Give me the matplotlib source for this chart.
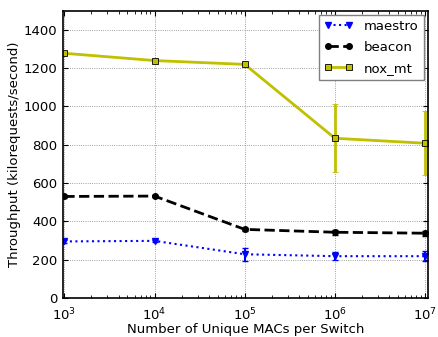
import matplotlib
matplotlib.use("Agg")
import matplotlib.pyplot as plt
from matplotlib.lines import Line2D

macs = [1e3, 1e4, 1e5, 1e6, 1e7]

maestro = [295, 298, 228, 218, 218]
maestro_err = [6, 6, 35, 22, 25]
beacon = [530, 532, 358, 343, 338]
beacon_err = [6, 6, 8, 12, 12]
nox_mt = [1278, 1240, 1220, 834, 808]
nox_mt_err = [10, 10, 10, 178, 167]

fig = plt.figure(figsize=(4.39, 3.37), dpi=100)
ax = fig.add_axes([0.1435, 0.116, 0.831, 0.852])

yel = '#c0c000'
ax.errorbar(macs, maestro, yerr=maestro_err, color='blue', ls=':', lw=1.5,
            marker='v', ms=4, capsize=2)
ax.errorbar(macs, beacon, yerr=beacon_err, color='black', ls='--', lw=2,
            marker='o', ms=4, capsize=2)
ax.errorbar(macs, nox_mt, yerr=nox_mt_err, color=yel, ls='-', lw=2,
            marker='s', ms=4, mfc=yel, mec='black', mew=0.6, capsize=2)

handles = [
    Line2D([], [], color='blue', ls=':', lw=1.5, marker='v', ms=4),
    Line2D([], [], color='black', ls='--', lw=2, marker='o', ms=4),
    Line2D([], [], color=yel, ls='-', lw=2, marker='s', ms=4, mfc=yel, mec='black', mew=0.6),
]
labels = ['maestro', 'beacon', 'nox_mt']

ax.set_xscale('log')
ax.set_xlim(10**2.985, 10**7.03)
ax.set_ylim(0, 1500)
ax.set_yticks(range(0, 1401, 200))
ax.grid(True, ls=':', color='gray', lw=0.6)
ax.tick_params(direction='in', which='both', top=True, right=True)
ax.tick_params(axis='y', labelsize=9.5, pad=4)
ax.tick_params(axis='x', labelsize=9.5, pad=6)
for s in ax.spines.values():
    s.set_linewidth(1.2)

ax.set_xlabel('Number of Unique MACs per Switch', fontsize=9.5, labelpad=0)
ax.set_ylabel('Throughput (kilorequests/second)', fontsize=9.5, labelpad=2)
ax.legend(handles, labels, loc='upper right', fontsize=9.5, fancybox=False,
          framealpha=1, edgecolor='gray', numpoints=2, handlelength=2.2,
          labelspacing=0.6, borderaxespad=0.3)

fig.savefig('out.png', dpi=100)
